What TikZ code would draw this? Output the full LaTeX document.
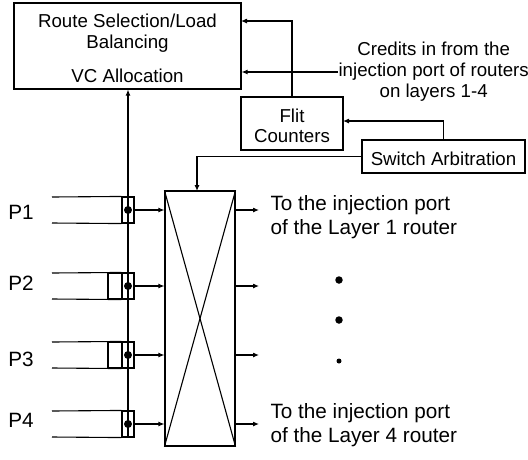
\documentclass[tikz,border=0pt]{standalone}
\usepackage{fontspec}
\setmainfont{Liberation Sans}
\usetikzlibrary{arrows.meta}
\begin{document}
\begin{tikzpicture}[x=1pt,y=-1pt,
  line width=1.1pt,
  arr/.style={-{Latex[length=6pt,width=5pt]}},
  blk/.style={draw,inner sep=0pt,minimum width=#1},
  lbl/.style={inner sep=0pt,font=\fontsize{18.7}{21}\selectfont},
  big/.style={inner sep=0pt,font=\fontsize{20.7}{24}\selectfont},
  bigdot/.style={circle,fill,inner sep=0pt,minimum size=#1},
  cell/.style={draw,inner sep=0pt,minimum height=26pt,minimum width=#1}]
\useasboundingbox (0,0) rectangle (528,459);
% top box
\node[blk=227pt,minimum height=86pt] (rs) at (127.5,46) {};
\node[lbl,anchor=base] (t1) at (127.5,27) {Route Selection/Load};
\node[lbl,anchor=base] (t2) at (127.5,48) {Balancing};
\node[lbl,anchor=base] (t3) at (127.5,82) {VC Allocation};
% flit counters
\node[blk=102pt,minimum height=53pt] (fc) at (292,123.5) {};
\node[lbl,anchor=base] (f1t) at (292,122) {Flit};
\node[lbl,anchor=base] (f2t) at (292,142) {Counters};
% switch arbitration
\node[blk=163pt,minimum height=33pt] (sa) at (443.5,156.5) {};
\node[lbl,anchor=base] (sat) at (443.5,165) {Switch Arbitration};
% credits text
\node[lbl,anchor=west,align=center] (cr) at (338,72) {Credits in from the\\injection port of routers\\on layers 1-4};
% crossbar
\node[blk=70pt,minimum height=255pt] (xb) at (200,318.5) {};
\draw (xb.north west) -- (xb.south east);
\draw (xb.north east) -- (xb.south west);
% connectors at top
\coordinate (r1) at (241,21);
\draw[arr] (fc.north) |- (r1);
\draw[arr] (cr.west) -- (cr.west -| rs.east);
\coordinate (f1) at (343,121);
\draw[arr] (sa.north) |- (f1);
\coordinate (xt) at (197,191);
\draw[arr] (sa.west) -| (xt);
% vertical line to top box
\coordinate (vb) at (128,437);
\draw[arr] (vb) -- (vb |- rs.south);
% input buffers
\foreach \i/\y/\ly in {1/210/212,2/286/283.5,3/355/359,4/424/420}{
  \node[cell=12pt] (c\i) at (128,\y) {};
  \coordinate (a\i) at (52,\y-13);
  \coordinate (b\i) at (52,\y+13);
  \draw (a\i) -- (c\i.north west);
  \draw (b\i) -- (c\i.south west);
  \node[bigdot=8pt] (d\i) at (c\i.center) {};
  \draw[arr] (c\i.east) -- (c\i.east -| xb.west);
  \coordinate (o\i) at (259,\y);
  \draw[arr] (xb.east |- o\i) -- (o\i);
  \node[big] (p\i) at (21,\ly) {P\i};
}
\node[cell=14pt] (e2) at (115,286) {};
\node[cell=14pt] (e3) at (115,355) {};
% output texts
\node[big,anchor=base west] (o1a) at (270,210) {To the injection port};
\node[big,anchor=base west] (o1b) at (270,234) {of the Layer 1 router};
\node[big,anchor=base west] (o4a) at (270,418) {To the injection port};
\node[big,anchor=base west] (o4b) at (270,442) {of the Layer 4 router};
% dots
\node[bigdot=7.5pt] (m1) at (339,280) {};
\node[bigdot=7.5pt] (m2) at (339,320) {};
\node[bigdot=5pt] (m3) at (339,361) {};
\end{tikzpicture}
\end{document}
